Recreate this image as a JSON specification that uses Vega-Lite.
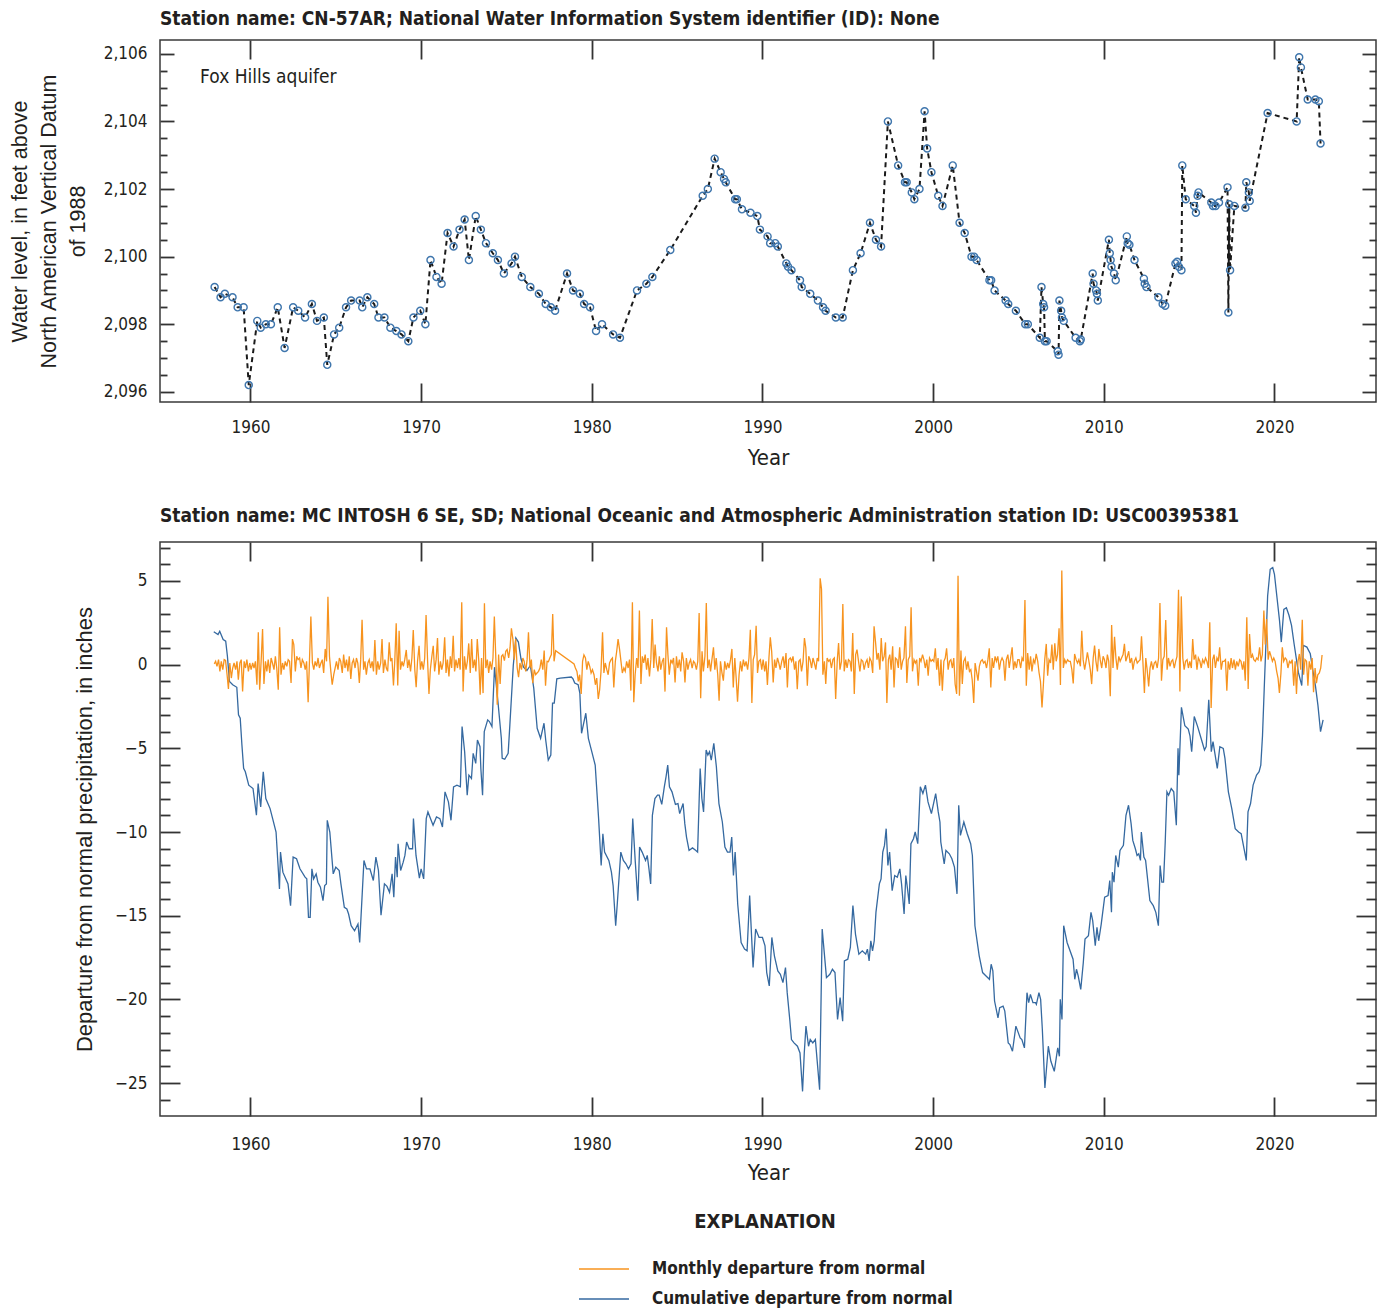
{
"$schema": "https://vega.github.io/schema/vega-lite/v6.json",
"background": "white",
"padding": {"left": 8, "top": 9, "right": 5, "bottom": 5},
"config": {
  "view": {"stroke": "#3a3a3a", "strokeWidth": 1.5},
  "axis": {"grid": false, "domain": false, "tickColor": "#333333", "tickWidth": 1.8, "labelFont": "DejaVu Sans Condensed, sans-serif", "labelFontSize": 17, "labelColor": "#231f20", "titleColor": "#231f20"},
  "concat": {"spacing": 37}
},
"datasets": {
  "wl": [
{"t":1957.9,"w":2099.1},{"t":1958.25,"w":2098.8},{"t":1958.5,"w":2098.9},{"t":1958.95,"w":2098.8},{"t":1959.25,"w":2098.5},{"t":1959.6,"w":2098.5},{"t":1959.9,"w":2096.2},{"t":1960.4,"w":2098.1},{"t":1960.6,"w":2097.9},{"t":1960.9,"w":2098.0},{"t":1961.2,"w":2098.0},{"t":1961.6,"w":2098.5},{"t":1962.0,"w":2097.3},{"t":1962.5,"w":2098.5},{"t":1962.8,"w":2098.4},{"t":1963.2,"w":2098.2},{"t":1963.6,"w":2098.6},{"t":1963.9,"w":2098.1},{"t":1964.3,"w":2098.2},{"t":1964.5,"w":2096.8},{"t":1964.9,"w":2097.7},{"t":1965.2,"w":2097.9},{"t":1965.6,"w":2098.5},{"t":1965.9,"w":2098.7},{"t":1966.4,"w":2098.7},{"t":1966.55,"w":2098.5},{"t":1966.85,"w":2098.8},{"t":1967.25,"w":2098.6},{"t":1967.5,"w":2098.2},{"t":1967.85,"w":2098.2},{"t":1968.2,"w":2097.9},{"t":1968.55,"w":2097.8},{"t":1968.85,"w":2097.7},{"t":1969.25,"w":2097.5},{"t":1969.55,"w":2098.2},{"t":1969.95,"w":2098.4},{"t":1970.25,"w":2098.0},{"t":1970.55,"w":2099.9},{"t":1970.9,"w":2099.4},{"t":1971.2,"w":2099.2},{"t":1971.55,"w":2100.7},{"t":1971.9,"w":2100.3},{"t":1972.25,"w":2100.8},{"t":1972.55,"w":2101.1},{"t":1972.8,"w":2099.9},{"t":1973.2,"w":2101.2},{"t":1973.5,"w":2100.8},{"t":1973.8,"w":2100.4},{"t":1974.2,"w":2100.1},{"t":1974.5,"w":2099.9},{"t":1974.85,"w":2099.5},{"t":1975.3,"w":2099.8},{"t":1975.5,"w":2100.0},{"t":1975.9,"w":2099.4},{"t":1976.4,"w":2099.1},{"t":1976.9,"w":2098.9},{"t":1977.3,"w":2098.6},{"t":1977.6,"w":2098.5},{"t":1977.85,"w":2098.4},{"t":1978.55,"w":2099.5},{"t":1978.9,"w":2099.0},{"t":1979.3,"w":2098.9},{"t":1979.55,"w":2098.6},{"t":1979.9,"w":2098.5},{"t":1980.25,"w":2097.8},{"t":1980.6,"w":2098.0},{"t":1981.25,"w":2097.7},{"t":1981.65,"w":2097.6},{"t":1982.65,"w":2099.0},{"t":1983.2,"w":2099.2},{"t":1983.55,"w":2099.4},{"t":1984.6,"w":2100.2},{"t":1986.5,"w":2101.8},{"t":1986.8,"w":2102.0},{"t":1987.2,"w":2102.9},{"t":1987.55,"w":2102.5},{"t":1987.75,"w":2102.3},{"t":1987.85,"w":2102.2},{"t":1988.4,"w":2101.7},{"t":1988.5,"w":2101.7},{"t":1988.8,"w":2101.4},{"t":1989.3,"w":2101.3},{"t":1989.7,"w":2101.2},{"t":1989.85,"w":2100.8},{"t":1990.3,"w":2100.6},{"t":1990.45,"w":2100.4},{"t":1990.75,"w":2100.4},{"t":1990.9,"w":2100.3},{"t":1991.4,"w":2099.8},{"t":1991.5,"w":2099.7},{"t":1991.7,"w":2099.6},{"t":1992.2,"w":2099.3},{"t":1992.3,"w":2099.1},{"t":1992.8,"w":2098.9},{"t":1993.25,"w":2098.7},{"t":1993.55,"w":2098.5},{"t":1993.7,"w":2098.4},{"t":1994.3,"w":2098.2},{"t":1994.7,"w":2098.2},{"t":1995.3,"w":2099.6},{"t":1995.75,"w":2100.1},{"t":1996.3,"w":2101.0},{"t":1996.65,"w":2100.5},{"t":1996.95,"w":2100.3},{"t":1997.35,"w":2104.0},{"t":1997.95,"w":2102.7},{"t":1998.35,"w":2102.2},{"t":1998.45,"w":2102.2},{"t":1998.75,"w":2101.9},{"t":1998.9,"w":2101.7},{"t":1999.2,"w":2102.0},{"t":1999.5,"w":2104.3},{"t":1999.65,"w":2103.2},{"t":1999.9,"w":2102.5},{"t":2000.3,"w":2101.8},{"t":2000.55,"w":2101.5},{"t":2001.15,"w":2102.7},{"t":2001.55,"w":2101.0},{"t":2001.85,"w":2100.7},{"t":2002.25,"w":2100.0},{"t":2002.4,"w":2100.0},{"t":2002.55,"w":2099.9},{"t":2003.3,"w":2099.3},{"t":2003.4,"w":2099.3},{"t":2003.6,"w":2099.0},{"t":2004.25,"w":2098.7},{"t":2004.4,"w":2098.6},{"t":2004.85,"w":2098.4},{"t":2005.4,"w":2098.0},{"t":2005.55,"w":2098.0},{"t":2006.25,"w":2097.6},{"t":2006.35,"w":2099.1},{"t":2006.45,"w":2098.6},{"t":2006.5,"w":2098.5},{"t":2006.55,"w":2097.5},{"t":2006.65,"w":2097.5},{"t":2007.3,"w":2097.2},{"t":2007.35,"w":2097.1},{"t":2007.4,"w":2098.7},{"t":2007.5,"w":2098.4},{"t":2007.55,"w":2098.2},{"t":2007.65,"w":2098.1},{"t":2008.35,"w":2097.6},{"t":2008.6,"w":2097.5},{"t":2008.65,"w":2097.55},{"t":2009.35,"w":2099.5},{"t":2009.4,"w":2099.2},{"t":2009.55,"w":2099.0},{"t":2009.6,"w":2098.9},{"t":2009.65,"w":2098.7},{"t":2010.3,"w":2100.5},{"t":2010.35,"w":2100.1},{"t":2010.4,"w":2099.9},{"t":2010.45,"w":2099.7},{"t":2010.6,"w":2099.5},{"t":2010.7,"w":2099.3},{"t":2011.35,"w":2100.6},{"t":2011.4,"w":2100.4},{"t":2011.5,"w":2100.35},{"t":2011.8,"w":2099.9},{"t":2012.35,"w":2099.35},{"t":2012.4,"w":2099.2},{"t":2012.5,"w":2099.1},{"t":2013.2,"w":2098.8},{"t":2013.45,"w":2098.6},{"t":2013.6,"w":2098.55},{"t":2014.2,"w":2099.8},{"t":2014.3,"w":2099.85},{"t":2014.4,"w":2099.7},{"t":2014.55,"w":2099.6},{"t":2014.6,"w":2102.7},{"t":2014.8,"w":2101.7},{"t":2015.3,"w":2101.5},{"t":2015.4,"w":2101.3},{"t":2015.5,"w":2101.8},{"t":2015.55,"w":2101.9},{"t":2016.3,"w":2101.6},{"t":2016.4,"w":2101.5},{"t":2016.55,"w":2101.5},{"t":2016.75,"w":2101.6},{"t":2017.25,"w":2102.05},{"t":2017.3,"w":2098.35},{"t":2017.35,"w":2101.55},{"t":2017.4,"w":2099.6},{"t":2017.65,"w":2101.5},{"t":2018.3,"w":2101.45},{"t":2018.35,"w":2102.2},{"t":2018.5,"w":2101.9},{"t":2018.55,"w":2101.65},{"t":2019.6,"w":2104.25},{"t":2021.3,"w":2104.0},{"t":2021.45,"w":2105.9},{"t":2021.55,"w":2105.6},{"t":2021.95,"w":2104.65},{"t":2022.4,"w":2104.65},{"t":2022.6,"w":2104.6},{"t":2022.7,"w":2103.35}
  ],
  "cum": [
{"t":1957.85,"v":1.97},{"t":1958.1,"v":1.8},{"t":1958.2,"v":2.0},{"t":1958.4,"v":1.5},{"t":1958.55,"v":1.4},{"t":1958.65,"v":0.5},{"t":1958.77,"v":-1.0},{"t":1958.96,"v":-1.2},{"t":1959.2,"v":-1.35},{"t":1959.3,"v":-3.0},{"t":1959.4,"v":-3.2},{"t":1959.5,"v":-4.8},{"t":1959.6,"v":-6.2},{"t":1959.7,"v":-6.4},{"t":1959.9,"v":-7.2},{"t":1960.15,"v":-7.4},{"t":1960.35,"v":-9.0},{"t":1960.45,"v":-7.1},{"t":1960.6,"v":-8.5},{"t":1960.75,"v":-6.4},{"t":1960.9,"v":-8.0},{"t":1961.15,"v":-8.6},{"t":1961.3,"v":-9.2},{"t":1961.5,"v":-10.0},{"t":1961.7,"v":-13.4},{"t":1961.76,"v":-11.2},{"t":1961.9,"v":-12.4},{"t":1962.2,"v":-13.1},{"t":1962.35,"v":-14.4},{"t":1962.5,"v":-11.5},{"t":1962.7,"v":-11.6},{"t":1962.9,"v":-12.2},{"t":1963.2,"v":-12.7},{"t":1963.3,"v":-12.8},{"t":1963.4,"v":-15.1},{"t":1963.5,"v":-15.1},{"t":1963.6,"v":-12.2},{"t":1963.7,"v":-12.8},{"t":1963.85,"v":-12.5},{"t":1963.95,"v":-13.0},{"t":1964.1,"v":-13.3},{"t":1964.25,"v":-14.1},{"t":1964.35,"v":-13.2},{"t":1964.45,"v":-13.1},{"t":1964.5,"v":-9.3},{"t":1964.65,"v":-10.0},{"t":1964.85,"v":-12.5},{"t":1965.0,"v":-12.1},{"t":1965.2,"v":-12.3},{"t":1965.3,"v":-13.1},{"t":1965.5,"v":-14.5},{"t":1965.65,"v":-14.6},{"t":1965.75,"v":-14.9},{"t":1965.9,"v":-15.6},{"t":1966.1,"v":-15.9},{"t":1966.3,"v":-15.5},{"t":1966.4,"v":-16.6},{"t":1966.65,"v":-11.7},{"t":1966.8,"v":-12.2},{"t":1967.0,"v":-12.2},{"t":1967.2,"v":-12.9},{"t":1967.35,"v":-11.5},{"t":1967.5,"v":-12.3},{"t":1967.65,"v":-14.97},{"t":1967.85,"v":-13.1},{"t":1968.0,"v":-13.25},{"t":1968.15,"v":-13.6},{"t":1968.3,"v":-12.5},{"t":1968.4,"v":-13.9},{"t":1968.5,"v":-11.5},{"t":1968.6,"v":-12.7},{"t":1968.65,"v":-10.7},{"t":1968.8,"v":-12.3},{"t":1968.95,"v":-11.8},{"t":1969.05,"v":-11.4},{"t":1969.15,"v":-10.6},{"t":1969.3,"v":-11.0},{"t":1969.5,"v":-11.0},{"t":1969.55,"v":-9.2},{"t":1969.7,"v":-11.4},{"t":1969.9,"v":-12.75},{"t":1970.0,"v":-12.2},{"t":1970.15,"v":-12.8},{"t":1970.3,"v":-9.2},{"t":1970.4,"v":-8.8},{"t":1970.7,"v":-9.6},{"t":1970.9,"v":-9.1},{"t":1971.1,"v":-9.2},{"t":1971.25,"v":-9.7},{"t":1971.4,"v":-7.6},{"t":1971.6,"v":-8.2},{"t":1971.75,"v":-9.3},{"t":1971.9,"v":-7.3},{"t":1972.1,"v":-7.2},{"t":1972.3,"v":-7.3},{"t":1972.4,"v":-3.7},{"t":1972.55,"v":-5.2},{"t":1972.7,"v":-7.8},{"t":1972.8,"v":-6.6},{"t":1972.95,"v":-6.8},{"t":1973.05,"v":-5.3},{"t":1973.2,"v":-5.9},{"t":1973.3,"v":-4.5},{"t":1973.45,"v":-4.9},{"t":1973.5,"v":-6.2},{"t":1973.6,"v":-7.8},{"t":1973.7,"v":-4.0},{"t":1973.9,"v":-3.3},{"t":1974.0,"v":-3.4},{"t":1974.15,"v":-3.7},{"t":1974.3,"v":-0.15},{"t":1974.5,"v":-2.2},{"t":1974.7,"v":-4.4},{"t":1974.75,"v":-5.6},{"t":1974.9,"v":-5.65},{"t":1975.1,"v":-5.3},{"t":1975.2,"v":-3.6},{"t":1975.4,"v":-0.05},{"t":1975.55,"v":1.6},{"t":1975.7,"v":1.35},{"t":1975.85,"v":0.35},{"t":1976.0,"v":-0.15},{"t":1976.2,"v":-0.35},{"t":1976.4,"v":-0.05},{"t":1976.6,"v":-1.4},{"t":1976.8,"v":-3.8},{"t":1977.0,"v":-4.4},{"t":1977.2,"v":-3.5},{"t":1977.3,"v":-4.5},{"t":1977.45,"v":-5.7},{"t":1977.6,"v":-5.4},{"t":1977.7,"v":-2.3},{"t":1977.8,"v":-2.3},{"t":1977.95,"v":-0.85},{"t":1978.15,"v":-0.8},{"t":1978.8,"v":-0.74},{"t":1978.9,"v":-0.85},{"t":1979.0,"v":-1.1},{"t":1979.2,"v":-1.2},{"t":1979.3,"v":-1.7},{"t":1979.4,"v":-4.1},{"t":1979.65,"v":-2.9},{"t":1979.8,"v":-4.4},{"t":1980.0,"v":-5.2},{"t":1980.2,"v":-6.0},{"t":1980.4,"v":-9.2},{"t":1980.55,"v":-12.0},{"t":1980.65,"v":-10.1},{"t":1980.75,"v":-11.2},{"t":1981.0,"v":-11.7},{"t":1981.15,"v":-12.4},{"t":1981.25,"v":-13.2},{"t":1981.4,"v":-15.6},{"t":1981.5,"v":-14.2},{"t":1981.7,"v":-11.2},{"t":1981.85,"v":-11.7},{"t":1982.0,"v":-11.9},{"t":1982.15,"v":-12.2},{"t":1982.3,"v":-11.9},{"t":1982.4,"v":-9.2},{"t":1982.55,"v":-11.8},{"t":1982.7,"v":-14.1},{"t":1982.8,"v":-10.9},{"t":1982.95,"v":-11.2},{"t":1983.15,"v":-11.7},{"t":1983.25,"v":-11.4},{"t":1983.35,"v":-12.2},{"t":1983.45,"v":-13.1},{"t":1983.55,"v":-9.0},{"t":1983.7,"v":-8.0},{"t":1983.85,"v":-7.8},{"t":1983.95,"v":-7.8},{"t":1984.1,"v":-8.35},{"t":1984.25,"v":-7.3},{"t":1984.35,"v":-6.7},{"t":1984.45,"v":-6.0},{"t":1984.55,"v":-7.3},{"t":1984.7,"v":-7.6},{"t":1984.9,"v":-8.35},{"t":1985.05,"v":-8.3},{"t":1985.15,"v":-8.9},{"t":1985.35,"v":-8.3},{"t":1985.45,"v":-9.5},{"t":1985.55,"v":-10.3},{"t":1985.7,"v":-11.1},{"t":1985.9,"v":-10.95},{"t":1986.1,"v":-11.1},{"t":1986.2,"v":-11.2},{"t":1986.3,"v":-7.8},{"t":1986.35,"v":-6.2},{"t":1986.45,"v":-8.0},{"t":1986.55,"v":-8.8},{"t":1986.7,"v":-5.1},{"t":1986.8,"v":-5.4},{"t":1986.9,"v":-5.2},{"t":1987.0,"v":-5.7},{"t":1987.15,"v":-4.7},{"t":1987.3,"v":-6.1},{"t":1987.45,"v":-8.3},{"t":1987.65,"v":-9.4},{"t":1987.8,"v":-10.9},{"t":1987.95,"v":-11.2},{"t":1988.1,"v":-11.2},{"t":1988.2,"v":-10.3},{"t":1988.3,"v":-12.6},{"t":1988.4,"v":-11.2},{"t":1988.55,"v":-14.3},{"t":1988.75,"v":-16.6},{"t":1988.95,"v":-17.0},{"t":1989.1,"v":-17.1},{"t":1989.25,"v":-13.8},{"t":1989.45,"v":-18.1},{"t":1989.6,"v":-15.8},{"t":1989.8,"v":-16.3},{"t":1990.0,"v":-16.3},{"t":1990.15,"v":-16.8},{"t":1990.25,"v":-18.4},{"t":1990.4,"v":-19.2},{"t":1990.55,"v":-16.3},{"t":1990.7,"v":-17.4},{"t":1990.9,"v":-18.3},{"t":1991.05,"v":-18.5},{"t":1991.2,"v":-19.0},{"t":1991.35,"v":-18.1},{"t":1991.45,"v":-19.6},{"t":1991.6,"v":-21.2},{"t":1991.7,"v":-22.4},{"t":1991.85,"v":-22.6},{"t":1992.05,"v":-22.8},{"t":1992.2,"v":-23.2},{"t":1992.35,"v":-25.5},{"t":1992.45,"v":-23.2},{"t":1992.55,"v":-21.6},{"t":1992.7,"v":-22.8},{"t":1992.8,"v":-22.4},{"t":1992.95,"v":-22.6},{"t":1993.1,"v":-22.4},{"t":1993.2,"v":-23.6},{"t":1993.35,"v":-25.4},{"t":1993.5,"v":-15.8},{"t":1993.75,"v":-18.7},{"t":1993.95,"v":-18.5},{"t":1994.1,"v":-18.2},{"t":1994.25,"v":-18.4},{"t":1994.4,"v":-21.2},{"t":1994.55,"v":-19.9},{"t":1994.7,"v":-21.3},{"t":1994.8,"v":-17.7},{"t":1995.0,"v":-17.6},{"t":1995.15,"v":-16.9},{"t":1995.3,"v":-14.4},{"t":1995.45,"v":-16.1},{"t":1995.65,"v":-17.3},{"t":1995.85,"v":-17.1},{"t":1996.05,"v":-17.3},{"t":1996.15,"v":-17.0},{"t":1996.25,"v":-17.7},{"t":1996.35,"v":-16.5},{"t":1996.45,"v":-17.1},{"t":1996.55,"v":-16.5},{"t":1996.65,"v":-14.8},{"t":1996.85,"v":-13.1},{"t":1996.95,"v":-12.8},{"t":1997.05,"v":-11.2},{"t":1997.15,"v":-10.8},{"t":1997.25,"v":-9.8},{"t":1997.35,"v":-12.0},{"t":1997.45,"v":-11.2},{"t":1997.6,"v":-13.5},{"t":1997.75,"v":-12.6},{"t":1997.9,"v":-12.7},{"t":1998.05,"v":-12.2},{"t":1998.15,"v":-13.1},{"t":1998.3,"v":-14.9},{"t":1998.4,"v":-12.6},{"t":1998.5,"v":-13.4},{"t":1998.6,"v":-14.3},{"t":1998.7,"v":-10.7},{"t":1998.85,"v":-10.4},{"t":1998.95,"v":-10.0},{"t":1999.1,"v":-10.7},{"t":1999.25,"v":-7.3},{"t":1999.4,"v":-7.7},{"t":1999.55,"v":-7.2},{"t":1999.7,"v":-8.2},{"t":1999.9,"v":-8.9},{"t":2000.15,"v":-7.7},{"t":2000.3,"v":-8.8},{"t":2000.4,"v":-9.4},{"t":2000.45,"v":-10.6},{"t":2000.65,"v":-11.9},{"t":2000.75,"v":-11.1},{"t":2000.95,"v":-11.3},{"t":2001.1,"v":-11.6},{"t":2001.25,"v":-12.1},{"t":2001.4,"v":-13.7},{"t":2001.5,"v":-8.4},{"t":2001.6,"v":-10.2},{"t":2001.8,"v":-9.4},{"t":2002.0,"v":-10.1},{"t":2002.2,"v":-10.7},{"t":2002.3,"v":-11.4},{"t":2002.45,"v":-15.6},{"t":2002.7,"v":-17.4},{"t":2002.9,"v":-18.4},{"t":2003.1,"v":-18.6},{"t":2003.3,"v":-18.8},{"t":2003.4,"v":-17.9},{"t":2003.5,"v":-18.3},{"t":2003.6,"v":-20.1},{"t":2003.8,"v":-21.1},{"t":2003.9,"v":-20.5},{"t":2004.1,"v":-20.4},{"t":2004.2,"v":-20.7},{"t":2004.4,"v":-22.6},{"t":2004.5,"v":-22.7},{"t":2004.65,"v":-23.1},{"t":2004.85,"v":-21.6},{"t":2005.1,"v":-22.3},{"t":2005.2,"v":-22.4},{"t":2005.35,"v":-22.9},{"t":2005.5,"v":-19.6},{"t":2005.6,"v":-20.2},{"t":2005.7,"v":-19.7},{"t":2005.85,"v":-20.2},{"t":2006.0,"v":-20.2},{"t":2006.05,"v":-20.3},{"t":2006.2,"v":-19.6},{"t":2006.3,"v":-20.0},{"t":2006.4,"v":-21.8},{"t":2006.55,"v":-25.3},{"t":2006.75,"v":-22.8},{"t":2006.9,"v":-23.7},{"t":2007.1,"v":-24.3},{"t":2007.3,"v":-22.9},{"t":2007.4,"v":-23.4},{"t":2007.45,"v":-20.0},{"t":2007.55,"v":-21.2},{"t":2007.65,"v":-15.6},{"t":2007.85,"v":-16.6},{"t":2008.2,"v":-17.6},{"t":2008.3,"v":-18.8},{"t":2008.4,"v":-18.2},{"t":2008.5,"v":-18.6},{"t":2008.65,"v":-19.4},{"t":2008.8,"v":-17.8},{"t":2008.9,"v":-16.4},{"t":2009.1,"v":-16.2},{"t":2009.25,"v":-14.8},{"t":2009.35,"v":-15.3},{"t":2009.5,"v":-16.8},{"t":2009.6,"v":-15.7},{"t":2009.7,"v":-16.5},{"t":2009.85,"v":-15.5},{"t":2010.05,"v":-13.9},{"t":2010.25,"v":-13.8},{"t":2010.35,"v":-12.9},{"t":2010.45,"v":-14.8},{"t":2010.5,"v":-12.4},{"t":2010.6,"v":-13.0},{"t":2010.7,"v":-11.4},{"t":2010.85,"v":-12.1},{"t":2010.95,"v":-11.1},{"t":2011.15,"v":-10.8},{"t":2011.3,"v":-9.0},{"t":2011.45,"v":-8.4},{"t":2011.6,"v":-9.5},{"t":2011.7,"v":-10.5},{"t":2011.85,"v":-11.0},{"t":2011.95,"v":-11.4},{"t":2012.05,"v":-11.3},{"t":2012.15,"v":-11.7},{"t":2012.2,"v":-10.0},{"t":2012.35,"v":-11.5},{"t":2012.45,"v":-11.7},{"t":2012.7,"v":-14.1},{"t":2012.9,"v":-14.4},{"t":2013.05,"v":-14.8},{"t":2013.2,"v":-15.6},{"t":2013.3,"v":-12.0},{"t":2013.4,"v":-13.0},{"t":2013.5,"v":-13.0},{"t":2013.6,"v":-10.6},{"t":2013.7,"v":-7.6},{"t":2013.8,"v":-7.8},{"t":2013.95,"v":-7.4},{"t":2014.1,"v":-7.6},{"t":2014.25,"v":-9.6},{"t":2014.35,"v":-5.0},{"t":2014.4,"v":-6.6},{"t":2014.55,"v":-2.55},{"t":2014.75,"v":-3.65},{"t":2014.95,"v":-3.85},{"t":2015.05,"v":-4.25},{"t":2015.15,"v":-5.2},{"t":2015.3,"v":-3.1},{"t":2015.5,"v":-3.7},{"t":2015.7,"v":-4.4},{"t":2015.9,"v":-5.1},{"t":2016.0,"v":-4.9},{"t":2016.15,"v":-2.1},{"t":2016.3,"v":-5.2},{"t":2016.4,"v":-4.6},{"t":2016.65,"v":-6.2},{"t":2016.8,"v":-4.9},{"t":2017.0,"v":-5.0},{"t":2017.1,"v":-5.6},{"t":2017.3,"v":-7.6},{"t":2017.5,"v":-8.6},{"t":2017.7,"v":-9.8},{"t":2017.9,"v":-10.0},{"t":2018.05,"v":-10.1},{"t":2018.2,"v":-10.9},{"t":2018.35,"v":-11.7},{"t":2018.45,"v":-8.8},{"t":2018.6,"v":-8.3},{"t":2018.75,"v":-7.2},{"t":2018.95,"v":-6.6},{"t":2019.1,"v":-6.4},{"t":2019.2,"v":-6.0},{"t":2019.3,"v":-4.25},{"t":2019.4,"v":-1.45},{"t":2019.5,"v":1.25},{"t":2019.6,"v":4.1},{"t":2019.75,"v":5.7},{"t":2019.9,"v":5.8},{"t":2020.0,"v":5.4},{"t":2020.15,"v":4.0},{"t":2020.3,"v":2.6},{"t":2020.4,"v":1.35},{"t":2020.55,"v":3.3},{"t":2020.7,"v":3.4},{"t":2020.85,"v":2.95},{"t":2021.0,"v":2.35},{"t":2021.15,"v":1.25},{"t":2021.4,"v":-0.45},{"t":2021.6,"v":-1.25},{"t":2021.7,"v":1.15},{"t":2021.9,"v":1.05},{"t":2022.1,"v":0.65},{"t":2022.25,"v":-0.35},{"t":2022.4,"v":-1.25},{"t":2022.55,"v":-2.45},{"t":2022.7,"v":-4.0},{"t":2022.85,"v":-3.3}
  ],
  "mon": [
{"t":1957.88,"v":0.05},{"t":1957.96,"v":0.2},
{"t":1958.04,"v":-0.1},{"t":1958.13,"v":0.3},{"t":1958.21,"v":-0.4},{"t":1958.29,"v":0.2},{"t":1958.38,"v":-0.3},{"t":1958.46,"v":0.3},{"t":1958.54,"v":0.25},{"t":1958.63,"v":-0.6},{"t":1958.71,"v":-1.45},{"t":1958.79,"v":0.1},{"t":1958.88,"v":-0.8},{"t":1958.96,"v":-0.2},
{"t":1959.04,"v":0.1},{"t":1959.13,"v":-0.3},{"t":1959.21,"v":0.2},{"t":1959.29,"v":-0.9},{"t":1959.38,"v":0.1},{"t":1959.46,"v":0.3},{"t":1959.54,"v":-1.6},{"t":1959.63,"v":0.2},{"t":1959.71,"v":-0.2},{"t":1959.79,"v":0.3},{"t":1959.88,"v":-0.4},{"t":1959.96,"v":0.1},
{"t":1960.04,"v":-0.3},{"t":1960.13,"v":0.1},{"t":1960.21,"v":-0.2},{"t":1960.29,"v":0.2},{"t":1960.38,"v":-1.2},{"t":1960.46,"v":1.93},{"t":1960.54,"v":-1.5},{"t":1960.63,"v":0.3},{"t":1960.71,"v":2.13},{"t":1960.79,"v":-1.15},{"t":1960.88,"v":0.2},{"t":1960.96,"v":-0.4},
{"t":1961.04,"v":0.3},{"t":1961.13,"v":-0.5},{"t":1961.21,"v":0.4},{"t":1961.29,"v":0.1},{"t":1961.38,"v":-0.3},{"t":1961.46,"v":0.5},{"t":1961.54,"v":-0.2},{"t":1961.63,"v":-1.5},{"t":1961.71,"v":2.23},{"t":1961.79,"v":-0.6},{"t":1961.88,"v":0.1},{"t":1961.96,"v":-0.3},
{"t":1962.04,"v":0.2},{"t":1962.13,"v":-0.1},{"t":1962.21,"v":0.3},{"t":1962.29,"v":0.2},{"t":1962.38,"v":-1.1},{"t":1962.46,"v":1.53},{"t":1962.54,"v":1.2},{"t":1962.63,"v":-0.4},{"t":1962.71,"v":0.5},{"t":1962.79,"v":0.3},{"t":1962.88,"v":0.4},{"t":1962.96,"v":-0.2},
{"t":1963.04,"v":0.3},{"t":1963.13,"v":0.1},{"t":1963.21,"v":-0.3},{"t":1963.29,"v":0.2},{"t":1963.38,"v":-2.25},{"t":1963.46,"v":0.3},{"t":1963.54,"v":2.87},{"t":1963.63,"v":0.1},{"t":1963.71,"v":-0.3},{"t":1963.79,"v":0.2},{"t":1963.88,"v":-0.1},{"t":1963.96,"v":0.4},
{"t":1964.04,"v":-0.2},{"t":1964.13,"v":0.1},{"t":1964.21,"v":0.3},{"t":1964.29,"v":-0.5},{"t":1964.38,"v":0.94},{"t":1964.46,"v":0.2},{"t":1964.54,"v":4.06},{"t":1964.63,"v":0.5},{"t":1964.71,"v":-0.4},{"t":1964.79,"v":-1.2},{"t":1964.88,"v":-0.6},{"t":1964.96,"v":-0.2},
{"t":1965.04,"v":0.2},{"t":1965.13,"v":-0.3},{"t":1965.21,"v":0.4},{"t":1965.29,"v":0.2},{"t":1965.38,"v":-0.5},{"t":1965.46,"v":0.6},{"t":1965.54,"v":-0.2},{"t":1965.63,"v":0.3},{"t":1965.71,"v":-0.4},{"t":1965.79,"v":0.5},{"t":1965.88,"v":-0.85},{"t":1965.96,"v":0.1},
{"t":1966.04,"v":0.3},{"t":1966.13,"v":-0.2},{"t":1966.21,"v":0.4},{"t":1966.29,"v":0.1},{"t":1966.38,"v":-1.1},{"t":1966.46,"v":0.3},{"t":1966.54,"v":2.69},{"t":1966.63,"v":-0.3},{"t":1966.71,"v":0.2},{"t":1966.79,"v":-0.6},{"t":1966.88,"v":0.1},{"t":1966.96,"v":0.3},
{"t":1967.04,"v":-0.2},{"t":1967.13,"v":0.2},{"t":1967.21,"v":-0.4},{"t":1967.29,"v":1.47},{"t":1967.38,"v":-0.6},{"t":1967.46,"v":0.2},{"t":1967.54,"v":-0.3},{"t":1967.63,"v":0.1},{"t":1967.71,"v":1.53},{"t":1967.79,"v":-0.5},{"t":1967.88,"v":0.3},{"t":1967.96,"v":-0.2},
{"t":1968.04,"v":-0.4},{"t":1968.13,"v":1.33},{"t":1968.21,"v":0.2},{"t":1968.29,"v":0.4},{"t":1968.38,"v":-1.25},{"t":1968.46,"v":0.3},{"t":1968.54,"v":2.47},{"t":1968.63,"v":-1.25},{"t":1968.71,"v":2.03},{"t":1968.79,"v":-0.3},{"t":1968.88,"v":0.2},{"t":1968.96,"v":-0.1},
{"t":1969.04,"v":0.3},{"t":1969.13,"v":0.88},{"t":1969.21,"v":-0.2},{"t":1969.29,"v":0.3},{"t":1969.38,"v":-0.4},{"t":1969.46,"v":0.4},{"t":1969.54,"v":2.07},{"t":1969.63,"v":-0.3},{"t":1969.71,"v":-1.35},{"t":1969.79,"v":0.2},{"t":1969.88,"v":1.13},{"t":1969.96,"v":-0.3},
{"t":1970.04,"v":0.2},{"t":1970.13,"v":-0.3},{"t":1970.21,"v":0.4},{"t":1970.29,"v":2.97},{"t":1970.38,"v":0.2},{"t":1970.46,"v":-1.75},{"t":1970.54,"v":-0.3},{"t":1970.63,"v":0.5},{"t":1970.71,"v":1.13},{"t":1970.79,"v":-0.4},{"t":1970.88,"v":0.3},{"t":1970.96,"v":1.59},
{"t":1971.04,"v":-0.6},{"t":1971.13,"v":0.2},{"t":1971.21,"v":-0.3},{"t":1971.29,"v":0.1},{"t":1971.38,"v":1.63},{"t":1971.46,"v":-0.5},{"t":1971.54,"v":0.3},{"t":1971.63,"v":-0.7},{"t":1971.71,"v":0.5},{"t":1971.79,"v":-0.2},{"t":1971.88,"v":1.73},{"t":1971.96,"v":-0.4},
{"t":1972.04,"v":0.3},{"t":1972.13,"v":-0.2},{"t":1972.21,"v":0.4},{"t":1972.29,"v":-0.3},{"t":1972.38,"v":3.73},{"t":1972.46,"v":-1.6},{"t":1972.54,"v":0.5},{"t":1972.63,"v":-0.3},{"t":1972.71,"v":0.2},{"t":1972.79,"v":1.27},{"t":1972.88,"v":-0.5},{"t":1972.96,"v":1.53},
{"t":1973.04,"v":-0.2},{"t":1973.13,"v":0.3},{"t":1973.21,"v":-0.4},{"t":1973.29,"v":1.53},{"t":1973.38,"v":0.2},{"t":1973.46,"v":-1.8},{"t":1973.54,"v":0.4},{"t":1973.63,"v":-1.7},{"t":1973.71,"v":3.67},{"t":1973.79,"v":-0.2},{"t":1973.88,"v":0.3},{"t":1973.96,"v":-0.5},
{"t":1974.04,"v":0.2},{"t":1974.13,"v":-0.3},{"t":1974.21,"v":0.4},{"t":1974.29,"v":2.87},{"t":1974.38,"v":0.3},{"t":1974.46,"v":-2.4},{"t":1974.54,"v":0.6},{"t":1974.63,"v":-1.15},{"t":1974.71,"v":0.5},{"t":1974.79,"v":0.6},{"t":1974.88,"v":0.24},{"t":1974.96,"v":0.8},
{"t":1975.04,"v":0.9},{"t":1975.13,"v":0.4},{"t":1975.21,"v":1.0},{"t":1975.29,"v":2.17},{"t":1975.38,"v":1.5},{"t":1975.46,"v":0.3},{"t":1975.54,"v":1.53},{"t":1975.63,"v":-0.2},{"t":1975.71,"v":-0.75},{"t":1975.79,"v":0.1},{"t":1975.88,"v":-0.3},{"t":1975.96,"v":0.4},
{"t":1976.04,"v":0.2},{"t":1976.13,"v":-0.4},{"t":1976.21,"v":0.3},{"t":1976.29,"v":1.93},{"t":1976.38,"v":-0.2},{"t":1976.46,"v":0.3},{"t":1976.54,"v":-1.1},{"t":1976.63,"v":-0.3},{"t":1976.71,"v":-0.6},{"t":1976.79,"v":-0.5},{"t":1976.88,"v":-0.4},{"t":1976.96,"v":-0.2},
{"t":1977.04,"v":0.3},{"t":1977.13,"v":-0.3},{"t":1977.21,"v":0.84},{"t":1977.29,"v":-1.26},{"t":1977.38,"v":0.2},{"t":1977.46,"v":0.18},{"t":1977.54,"v":0.4},{"t":1977.63,"v":0.6},{"t":1977.71,"v":3.03},{"t":1977.79,"v":0.2},{"t":1977.88,"v":0.84},
{"t":1978.96,"v":0.04},
{"t":1979.04,"v":-0.2},{"t":1979.13,"v":-0.4},{"t":1979.21,"v":-1.0},{"t":1979.29,"v":-0.6},{"t":1979.38,"v":-1.75},{"t":1979.46,"v":0.2},{"t":1979.54,"v":0.58},{"t":1979.63,"v":0.4},{"t":1979.71,"v":-0.3},{"t":1979.79,"v":0.2},{"t":1979.88,"v":-0.1},{"t":1979.96,"v":-0.5},
{"t":1980.04,"v":-0.3},{"t":1980.13,"v":-0.6},{"t":1980.21,"v":-1.2},{"t":1980.29,"v":-0.8},{"t":1980.38,"v":-2.05},{"t":1980.46,"v":-1.5},{"t":1980.54,"v":-0.4},{"t":1980.63,"v":1.93},{"t":1980.71,"v":-0.5},{"t":1980.79,"v":0.1},{"t":1980.88,"v":-0.3},{"t":1980.96,"v":-0.6},
{"t":1981.04,"v":0.1},{"t":1981.13,"v":0.3},{"t":1981.21,"v":0.4},{"t":1981.29,"v":-1.36},{"t":1981.38,"v":0.2},{"t":1981.46,"v":0.8},{"t":1981.54,"v":1.53},{"t":1981.63,"v":0.9},{"t":1981.71,"v":0.2},{"t":1981.79,"v":-0.5},{"t":1981.88,"v":-0.2},{"t":1981.96,"v":-0.4},
{"t":1982.04,"v":0.2},{"t":1982.13,"v":-0.2},{"t":1982.21,"v":0.3},{"t":1982.29,"v":-1.55},{"t":1982.38,"v":3.73},{"t":1982.46,"v":-2.25},{"t":1982.54,"v":-0.6},{"t":1982.63,"v":0.4},{"t":1982.71,"v":-0.2},{"t":1982.79,"v":3.23},{"t":1982.88,"v":-1.16},{"t":1982.96,"v":0.5},
{"t":1983.04,"v":0.1},{"t":1983.13,"v":0.6},{"t":1983.21,"v":-0.3},{"t":1983.29,"v":0.4},{"t":1983.38,"v":-0.7},{"t":1983.46,"v":0.3},{"t":1983.54,"v":2.73},{"t":1983.63,"v":-0.2},{"t":1983.71,"v":1.2},{"t":1983.79,"v":0.1},{"t":1983.88,"v":-0.4},{"t":1983.96,"v":0.5},
{"t":1984.04,"v":-0.3},{"t":1984.13,"v":0.2},{"t":1984.21,"v":0.4},{"t":1984.29,"v":-1.61},{"t":1984.38,"v":2.23},{"t":1984.46,"v":0.6},{"t":1984.54,"v":-0.6},{"t":1984.63,"v":0.3},{"t":1984.71,"v":0.1},{"t":1984.79,"v":0.4},{"t":1984.88,"v":-1.06},{"t":1984.96,"v":0.5},
{"t":1985.04,"v":-0.2},{"t":1985.13,"v":0.3},{"t":1985.21,"v":-0.4},{"t":1985.29,"v":0.74},{"t":1985.38,"v":0.2},{"t":1985.46,"v":-1.06},{"t":1985.54,"v":0.4},{"t":1985.63,"v":-0.3},{"t":1985.71,"v":0.1},{"t":1985.79,"v":0.3},{"t":1985.88,"v":-0.2},{"t":1985.96,"v":0.2},
{"t":1986.04,"v":0.1},{"t":1986.13,"v":-0.3},{"t":1986.21,"v":0.2},{"t":1986.29,"v":3.09},{"t":1986.38,"v":-2.01},{"t":1986.46,"v":0.8},{"t":1986.54,"v":-0.4},{"t":1986.63,"v":0.5},{"t":1986.71,"v":3.69},{"t":1986.79,"v":-0.2},{"t":1986.88,"v":0.3},{"t":1986.96,"v":-0.4},
{"t":1987.04,"v":0.3},{"t":1987.13,"v":1.04},{"t":1987.21,"v":-0.3},{"t":1987.29,"v":0.4},{"t":1987.38,"v":-0.6},{"t":1987.46,"v":-2.15},{"t":1987.54,"v":0.2},{"t":1987.63,"v":-0.5},{"t":1987.71,"v":-0.96},{"t":1987.79,"v":0.2},{"t":1987.88,"v":-0.3},{"t":1987.96,"v":0.1},
{"t":1988.04,"v":-0.2},{"t":1988.13,"v":0.3},{"t":1988.21,"v":0.94},{"t":1988.29,"v":-1.36},{"t":1988.38,"v":0.4},{"t":1988.46,"v":-0.8},{"t":1988.54,"v":-2.21},{"t":1988.63,"v":-0.6},{"t":1988.71,"v":0.2},{"t":1988.79,"v":-0.4},{"t":1988.88,"v":0.3},{"t":1988.96,"v":-0.1},
{"t":1989.04,"v":0.2},{"t":1989.13,"v":-0.3},{"t":1989.21,"v":0.4},{"t":1989.29,"v":2.09},{"t":1989.38,"v":-2.29},{"t":1989.46,"v":0.3},{"t":1989.54,"v":0.6},{"t":1989.63,"v":2.33},{"t":1989.71,"v":-0.5},{"t":1989.79,"v":0.2},{"t":1989.88,"v":0.3},{"t":1989.96,"v":-0.3},
{"t":1990.04,"v":0.3},{"t":1990.13,"v":-0.4},{"t":1990.21,"v":0.2},{"t":1990.29,"v":-1.22},{"t":1990.38,"v":0.4},{"t":1990.46,"v":1.63},{"t":1990.54,"v":0.8},{"t":1990.63,"v":-1.06},{"t":1990.71,"v":0.3},{"t":1990.79,"v":-0.2},{"t":1990.88,"v":0.4},{"t":1990.96,"v":0.1},
{"t":1991.04,"v":-0.3},{"t":1991.13,"v":0.2},{"t":1991.21,"v":0.5},{"t":1991.29,"v":-0.2},{"t":1991.38,"v":0.7},{"t":1991.46,"v":-1.36},{"t":1991.54,"v":0.3},{"t":1991.63,"v":0.4},{"t":1991.71,"v":0.2},{"t":1991.79,"v":0.5},{"t":1991.88,"v":-0.3},{"t":1991.96,"v":0.2},
{"t":1992.04,"v":-1.46},{"t":1992.13,"v":0.2},{"t":1992.21,"v":0.3},{"t":1992.29,"v":-0.4},{"t":1992.38,"v":0.2},{"t":1992.46,"v":1.59},{"t":1992.54,"v":1.0},{"t":1992.63,"v":-1.26},{"t":1992.71,"v":0.5},{"t":1992.79,"v":0.3},{"t":1992.88,"v":-0.2},{"t":1992.96,"v":0.4},
{"t":1993.04,"v":0.1},{"t":1993.13,"v":-0.3},{"t":1993.21,"v":0.4},{"t":1993.29,"v":0.2},{"t":1993.38,"v":5.16},{"t":1993.46,"v":4.52},{"t":1993.54,"v":-0.6},{"t":1993.63,"v":0.2},{"t":1993.71,"v":-1.16},{"t":1993.79,"v":0.4},{"t":1993.88,"v":0.2},{"t":1993.96,"v":0.3},
{"t":1994.04,"v":-0.2},{"t":1994.13,"v":0.3},{"t":1994.21,"v":0.4},{"t":1994.29,"v":-2.05},{"t":1994.38,"v":0.2},{"t":1994.46,"v":1.29},{"t":1994.54,"v":-0.3},{"t":1994.63,"v":0.2},{"t":1994.71,"v":3.63},{"t":1994.79,"v":-0.4},{"t":1994.88,"v":0.3},{"t":1994.96,"v":-0.2},
{"t":1995.04,"v":0.3},{"t":1995.13,"v":0.2},{"t":1995.21,"v":-0.4},{"t":1995.29,"v":1.89},{"t":1995.38,"v":-1.75},{"t":1995.46,"v":0.6},{"t":1995.54,"v":0.9},{"t":1995.63,"v":0.2},{"t":1995.71,"v":-0.4},{"t":1995.79,"v":0.3},{"t":1995.88,"v":0.2},{"t":1995.96,"v":-0.3},
{"t":1996.04,"v":0.1},{"t":1996.13,"v":0.3},{"t":1996.21,"v":-0.2},{"t":1996.29,"v":0.4},{"t":1996.38,"v":0.2},{"t":1996.46,"v":-0.5},{"t":1996.54,"v":2.29},{"t":1996.63,"v":1.3},{"t":1996.71,"v":0.3},{"t":1996.79,"v":0.7},{"t":1996.88,"v":-0.3},{"t":1996.96,"v":1.59},
{"t":1997.04,"v":0.2},{"t":1997.13,"v":0.5},{"t":1997.21,"v":1.33},{"t":1997.29,"v":-2.29},{"t":1997.38,"v":0.3},{"t":1997.46,"v":0.6},{"t":1997.54,"v":-0.3},{"t":1997.63,"v":1.1},{"t":1997.71,"v":-1.36},{"t":1997.79,"v":0.4},{"t":1997.88,"v":0.3},{"t":1997.96,"v":-0.2},
{"t":1998.04,"v":1.04},{"t":1998.13,"v":-0.3},{"t":1998.21,"v":0.2},{"t":1998.29,"v":0.4},{"t":1998.38,"v":2.29},{"t":1998.46,"v":-1.1},{"t":1998.54,"v":0.3},{"t":1998.63,"v":0.5},{"t":1998.71,"v":3.43},{"t":1998.79,"v":-0.4},{"t":1998.88,"v":0.3},{"t":1998.96,"v":0.1},
{"t":1999.04,"v":0.3},{"t":1999.13,"v":-1.26},{"t":1999.21,"v":0.4},{"t":1999.29,"v":0.2},{"t":1999.38,"v":0.6},{"t":1999.46,"v":0.3},{"t":1999.54,"v":-0.2},{"t":1999.63,"v":0.3},{"t":1999.71,"v":-0.66},{"t":1999.79,"v":0.4},{"t":1999.88,"v":0.2},{"t":1999.96,"v":0.3},
{"t":2000.04,"v":0.2},{"t":2000.13,"v":0.98},{"t":2000.21,"v":-0.3},{"t":2000.29,"v":0.4},{"t":2000.38,"v":-1.26},{"t":2000.46,"v":0.3},{"t":2000.54,"v":-1.55},{"t":2000.63,"v":0.2},{"t":2000.71,"v":0.4},{"t":2000.79,"v":0.98},{"t":2000.88,"v":-0.3},{"t":2000.96,"v":0.2},
{"t":2001.04,"v":0.3},{"t":2001.13,"v":-0.2},{"t":2001.21,"v":0.4},{"t":2001.29,"v":-1.16},{"t":2001.38,"v":-1.75},{"t":2001.46,"v":5.32},{"t":2001.54,"v":-1.85},{"t":2001.63,"v":0.84},{"t":2001.71,"v":-1.16},{"t":2001.79,"v":0.2},{"t":2001.88,"v":0.4},{"t":2001.96,"v":-0.3},
{"t":2002.04,"v":0.2},{"t":2002.13,"v":-0.4},{"t":2002.21,"v":-0.3},{"t":2002.29,"v":-0.9},{"t":2002.38,"v":-2.29},{"t":2002.46,"v":0.1},{"t":2002.54,"v":-0.4},{"t":2002.63,"v":-0.96},{"t":2002.71,"v":-0.1},{"t":2002.79,"v":0.2},{"t":2002.88,"v":0.3},{"t":2002.96,"v":0.1},
{"t":2003.04,"v":0.2},{"t":2003.13,"v":-0.2},{"t":2003.21,"v":0.3},{"t":2003.29,"v":0.98},{"t":2003.38,"v":-1.36},{"t":2003.46,"v":0.4},{"t":2003.54,"v":-0.2},{"t":2003.63,"v":0.5},{"t":2003.71,"v":0.2},{"t":2003.79,"v":0.5},{"t":2003.88,"v":-0.3},{"t":2003.96,"v":0.2},
{"t":2004.04,"v":0.4},{"t":2004.13,"v":0.2},{"t":2004.21,"v":-0.96},{"t":2004.29,"v":0.3},{"t":2004.38,"v":0.6},{"t":2004.46,"v":-0.2},{"t":2004.54,"v":0.4},{"t":2004.63,"v":1.04},{"t":2004.71,"v":-0.3},{"t":2004.79,"v":0.2},{"t":2004.88,"v":-0.2},{"t":2004.96,"v":0.3},
{"t":2005.04,"v":0.3},{"t":2005.13,"v":-0.2},{"t":2005.21,"v":0.4},{"t":2005.29,"v":0.2},{"t":2005.38,"v":3.86},{"t":2005.46,"v":-1.26},{"t":2005.54,"v":0.7},{"t":2005.63,"v":-0.3},{"t":2005.71,"v":0.5},{"t":2005.79,"v":-0.4},{"t":2005.88,"v":0.3},{"t":2005.96,"v":0.1},
{"t":2006.04,"v":0.64},{"t":2006.13,"v":0.2},{"t":2006.21,"v":-0.5},{"t":2006.29,"v":-1.0},{"t":2006.38,"v":-2.55},{"t":2006.46,"v":-1.2},{"t":2006.54,"v":0.3},{"t":2006.63,"v":1.24},{"t":2006.71,"v":-0.66},{"t":2006.79,"v":0.3},{"t":2006.88,"v":0.1},{"t":2006.96,"v":1.2},
{"t":2007.04,"v":-0.3},{"t":2007.13,"v":1.28},{"t":2007.21,"v":0.2},{"t":2007.29,"v":0.6},{"t":2007.38,"v":2.17},{"t":2007.46,"v":-1.22},{"t":2007.54,"v":5.62},{"t":2007.63,"v":-0.2},{"t":2007.71,"v":0.3},{"t":2007.79,"v":0.1},{"t":2007.88,"v":0.3},{"t":2007.96,"v":0.2},
{"t":2008.04,"v":0.2},{"t":2008.13,"v":-0.3},{"t":2008.21,"v":-1.12},{"t":2008.29,"v":0.64},{"t":2008.38,"v":0.3},{"t":2008.46,"v":0.1},{"t":2008.54,"v":0.3},{"t":2008.63,"v":-0.1},{"t":2008.71,"v":2.03},{"t":2008.79,"v":0.3},{"t":2008.88,"v":-0.3},{"t":2008.96,"v":0.2},
{"t":2009.04,"v":0.74},{"t":2009.13,"v":0.2},{"t":2009.21,"v":-0.3},{"t":2009.29,"v":-1.16},{"t":2009.38,"v":0.4},{"t":2009.46,"v":1.14},{"t":2009.54,"v":0.2},{"t":2009.63,"v":-0.4},{"t":2009.71,"v":0.94},{"t":2009.79,"v":0.3},{"t":2009.88,"v":-0.2},{"t":2009.96,"v":0.5},
{"t":2010.04,"v":0.3},{"t":2010.13,"v":-0.2},{"t":2010.21,"v":0.6},{"t":2010.29,"v":0.2},{"t":2010.38,"v":-1.89},{"t":2010.46,"v":2.37},{"t":2010.54,"v":-0.2},{"t":2010.63,"v":1.67},{"t":2010.71,"v":0.4},{"t":2010.79,"v":-0.3},{"t":2010.88,"v":0.5},{"t":2010.96,"v":0.2},
{"t":2011.04,"v":0.4},{"t":2011.13,"v":0.6},{"t":2011.21,"v":1.24},{"t":2011.29,"v":0.2},{"t":2011.38,"v":0.5},{"t":2011.46,"v":0.8},{"t":2011.54,"v":0.1},{"t":2011.63,"v":0.4},{"t":2011.71,"v":-0.3},{"t":2011.79,"v":0.2},{"t":2011.88,"v":0.4},{"t":2011.96,"v":0.1},
{"t":2012.04,"v":0.2},{"t":2012.13,"v":0.3},{"t":2012.21,"v":1.69},{"t":2012.29,"v":0.2},{"t":2012.38,"v":-1.69},{"t":2012.46,"v":0.4},{"t":2012.54,"v":-0.3},{"t":2012.63,"v":-1.3},{"t":2012.71,"v":-0.2},{"t":2012.79,"v":0.2},{"t":2012.88,"v":-0.3},{"t":2012.96,"v":0.1},
{"t":2013.04,"v":0.2},{"t":2013.13,"v":-0.2},{"t":2013.21,"v":0.4},{"t":2013.29,"v":3.69},{"t":2013.38,"v":-0.96},{"t":2013.46,"v":0.3},{"t":2013.54,"v":0.5},{"t":2013.63,"v":2.67},{"t":2013.71,"v":-0.3},{"t":2013.79,"v":0.4},{"t":2013.88,"v":-0.1},{"t":2013.96,"v":0.2},
{"t":2014.04,"v":0.3},{"t":2014.13,"v":-0.2},{"t":2014.21,"v":0.2},{"t":2014.29,"v":0.5},{"t":2014.38,"v":4.48},{"t":2014.46,"v":-1.61},{"t":2014.54,"v":4.08},{"t":2014.63,"v":0.4},{"t":2014.71,"v":-0.3},{"t":2014.79,"v":0.2},{"t":2014.88,"v":0.3},{"t":2014.96,"v":-0.2},
{"t":2015.04,"v":0.2},{"t":2015.13,"v":-0.2},{"t":2015.21,"v":1.53},{"t":2015.29,"v":0.3},{"t":2015.38,"v":0.6},{"t":2015.46,"v":-0.3},{"t":2015.54,"v":0.4},{"t":2015.63,"v":0.2},{"t":2015.71,"v":-0.2},{"t":2015.79,"v":0.3},{"t":2015.88,"v":0.1},{"t":2015.96,"v":0.4},
{"t":2016.04,"v":0.2},{"t":2016.13,"v":-0.2},{"t":2016.21,"v":2.53},{"t":2016.29,"v":-2.59},{"t":2016.38,"v":0.3},{"t":2016.46,"v":0.6},{"t":2016.54,"v":-0.2},{"t":2016.63,"v":0.4},{"t":2016.71,"v":0.2},{"t":2016.79,"v":1.04},{"t":2016.88,"v":-0.3},{"t":2016.96,"v":0.2},
{"t":2017.04,"v":0.2},{"t":2017.13,"v":0.3},{"t":2017.21,"v":-1.55},{"t":2017.29,"v":0.2},{"t":2017.38,"v":-0.3},{"t":2017.46,"v":0.4},{"t":2017.54,"v":-0.2},{"t":2017.63,"v":0.3},{"t":2017.71,"v":-0.3},{"t":2017.79,"v":0.2},{"t":2017.88,"v":-0.1},{"t":2017.96,"v":0.3},
{"t":2018.04,"v":0.2},{"t":2018.13,"v":-0.3},{"t":2018.21,"v":0.2},{"t":2018.29,"v":-0.96},{"t":2018.38,"v":2.83},{"t":2018.46,"v":-1.46},{"t":2018.54,"v":1.83},{"t":2018.63,"v":0.4},{"t":2018.71,"v":0.6},{"t":2018.79,"v":0.3},{"t":2018.88,"v":0.2},{"t":2018.96,"v":0.4},
{"t":2019.04,"v":0.3},{"t":2019.13,"v":1.04},{"t":2019.21,"v":0.2},{"t":2019.29,"v":0.6},{"t":2019.38,"v":3.23},{"t":2019.46,"v":1.2},{"t":2019.54,"v":2.73},{"t":2019.63,"v":0.3},{"t":2019.71,"v":0.8},{"t":2019.79,"v":0.54},{"t":2019.88,"v":0.2},{"t":2019.96,"v":0.4},
{"t":2020.04,"v":0.2},{"t":2020.13,"v":-0.4},{"t":2020.21,"v":-0.8},{"t":2020.29,"v":-1.69},{"t":2020.38,"v":-0.5},{"t":2020.46,"v":1.04},{"t":2020.54,"v":0.2},{"t":2020.63,"v":0.4},{"t":2020.71,"v":0.3},{"t":2020.79,"v":-0.2},{"t":2020.88,"v":0.2},{"t":2020.96,"v":0.1},
{"t":2021.04,"v":0.3},{"t":2021.13,"v":-1.26},{"t":2021.21,"v":0.2},{"t":2021.29,"v":-1.75},{"t":2021.38,"v":0.2},{"t":2021.46,"v":0.64},{"t":2021.54,"v":-0.3},{"t":2021.63,"v":2.69},{"t":2021.71,"v":-0.6},{"t":2021.79,"v":0.3},{"t":2021.88,"v":0.2},{"t":2021.96,"v":-1.26},
{"t":2022.04,"v":0.2},{"t":2022.13,"v":-0.3},{"t":2022.21,"v":0.4},{"t":2022.29,"v":-1.65},{"t":2022.38,"v":-0.2},{"t":2022.46,"v":-1.1},{"t":2022.54,"v":-0.6},{"t":2022.63,"v":-0.5},{"t":2022.71,"v":-0.2},{"t":2022.79,"v":0.58}
  ]
},
"vconcat": [
  {
    "title": {"text": "Station name: CN-57AR; National Water Information System identifier (ID): None", "anchor": "start", "frame": "group", "font": "DejaVu Sans Condensed, sans-serif", "fontSize": 19, "fontWeight": "bold", "color": "#231f20", "offset": 10},
    "width": 1216,
    "height": 362,
    "layer": [
      {
        "data": {"name": "wl"},
        "mark": {"type": "line", "color": "#1a1a1a", "strokeDash": [5, 4], "strokeWidth": 2},
        "encoding": {
          "x": {"field": "t", "type": "quantitative", "scale": {"domain": [1954.7, 2025.95], "nice": false, "zero": false},
                "axis": {"orient": "bottom", "values": [1960, 1970, 1980, 1990, 2000, 2010, 2020], "format": "d", "tickSize": -19, "labelPadding": 36, "title": "Year", "titleFont": "DejaVu Sans Condensed, sans-serif", "titleFontSize": 22, "titleFontWeight": "normal", "titlePadding": 12}},
          "y": {"field": "w", "type": "quantitative", "scale": {"domain": [2095.7, 2106.41], "nice": false, "zero": false},
                "axis": {"orient": "left", "values": [2096, 2096.5, 2097, 2097.5, 2098, 2098.5, 2099, 2099.5, 2100, 2100.5, 2101, 2101.5, 2102, 2102.5, 2103, 2103.5, 2104, 2104.5, 2105, 2105.5, 2106],
                         "tickSize": {"condition": {"test": "datum.value % 2 === 0", "value": -14}, "value": -7},
                         "labelExpr": "datum.value % 2 === 0 ? format(datum.value, ',') : ''", "labelPadding": 27,
                         "title": ["Water level, in feet above", "North American Vertical Datum", "of 1988"], "titleFont": "Liberation Sans, Arial, sans-serif", "titleFontSize": 21.5, "titleFontWeight": "normal", "titleLineHeight": 29, "titlePadding": 14}}
        }
      },
      {
        "data": {"name": "wl"},
        "mark": {"type": "point", "shape": "circle", "filled": false, "stroke": "#3f76ad", "strokeWidth": 1.4, "size": 50, "opacity": 1},
        "encoding": {
          "x": {"field": "t", "type": "quantitative", "axis": {"orient": "top", "values": [1960, 1970, 1980, 1990, 2000, 2010, 2020], "tickSize": -19, "labels": false, "title": null}},
          "y": {"field": "w", "type": "quantitative", "axis": {"orient": "right", "values": [2096, 2096.5, 2097, 2097.5, 2098, 2098.5, 2099, 2099.5, 2100, 2100.5, 2101, 2101.5, 2102, 2102.5, 2103, 2103.5, 2104, 2104.5, 2105, 2105.5, 2106], "tickSize": {"condition": {"test": "datum.value % 2 === 0", "value": -14}, "value": -7}, "labels": false, "title": null}}
        }
      },
      {
        "data": {"values": [{"t": 1957.05, "w": 2105.32, "label": "Fox Hills aquifer"}]},
        "mark": {"type": "text", "align": "left", "baseline": "middle", "font": "DejaVu Sans Condensed, sans-serif", "fontSize": 19, "color": "#231f20"},
        "encoding": {
          "x": {"field": "t", "type": "quantitative", "axis": null},
          "y": {"field": "w", "type": "quantitative", "axis": null},
          "text": {"field": "label"}
        }
      }
    ],
    "resolve": {"axis": {"x": "independent", "y": "independent"}}
  },
  {
    "title": {"text": "Station name: MC INTOSH 6 SE, SD; National Oceanic and Atmospheric Administration station ID: USC00395381", "anchor": "start", "frame": "group", "font": "DejaVu Sans Condensed, sans-serif", "fontSize": 19, "fontWeight": "bold", "color": "#231f20", "offset": 15},
    "width": 1216,
    "height": 574,
    "layer": [
      {
        "data": {"name": "cum"},
        "mark": {"type": "line", "strokeWidth": 1.3},
        "encoding": {
          "x": {"field": "t", "type": "quantitative", "scale": {"domain": [1954.7, 2025.95], "nice": false, "zero": false},
                "axis": {"orient": "bottom", "values": [1960, 1970, 1980, 1990, 2000, 2010, 2020], "format": "d", "tickSize": -19, "labelPadding": 39, "title": "Year", "titleFont": "DejaVu Sans Condensed, sans-serif", "titleFontSize": 22, "titleFontWeight": "normal", "titlePadding": 10}},
          "y": {"field": "v", "type": "quantitative", "scale": {"domain": [-26.97, 7.33], "nice": false, "zero": false},
                "axis": {"orient": "left", "values": [-26, -25, -24, -23, -22, -21, -20, -19, -18, -17, -16, -15, -14, -13, -12, -11, -10, -9, -8, -7, -6, -5, -4, -3, -2, -1, 0, 1, 2, 3, 4, 5, 6, 7],
                         "tickSize": {"condition": {"test": "datum.value % 5 === 0", "value": -20}, "value": -10},
                         "labelExpr": "datum.value % 5 === 0 ? format(datum.value, 'd') : ''", "labelPadding": 33,
                         "title": "Departure from normal precipitation, in inches", "titleFont": "Liberation Sans, Arial, sans-serif", "titleFontSize": 22, "titleFontWeight": "normal", "titlePadding": 18}},
          "color": {"datum": "Cumulative departure from normal", "type": "nominal",
                    "scale": {"domain": ["Monthly departure from normal", "Cumulative departure from normal"], "range": ["#f7931e", "#3569a0"]},
                    "legend": {"title": "EXPLANATION", "orient": "none", "legendX": 418, "legendY": 1172, "direction": "vertical",
                               "titleFont": "DejaVu Sans Condensed, sans-serif", "titleFontSize": 20, "titleFontWeight": "bold", "titleColor": "#231f20", "titleAnchor": "middle", "titleAlign": "center", "titlePadding": 26,
                               "labelFont": "DejaVu Sans Condensed, sans-serif", "labelFontSize": 17, "labelFontWeight": "bold", "labelColor": "#231f20", "labelOffset": 52, "labelLimit": 500,
                               "symbolType": "M-1,0L4,0", "symbolSize": 400, "symbolStrokeWidth": 1.5, "rowPadding": 11}}
        }
      },
      {
        "data": {"name": "mon"},
        "mark": {"type": "line", "strokeWidth": 1.3},
        "encoding": {
          "x": {"field": "t", "type": "quantitative", "axis": {"orient": "top", "values": [1960, 1970, 1980, 1990, 2000, 2010, 2020], "tickSize": -19, "labels": false, "title": null}},
          "y": {"field": "v", "type": "quantitative", "axis": {"orient": "right", "values": [-26, -25, -24, -23, -22, -21, -20, -19, -18, -17, -16, -15, -14, -13, -12, -11, -10, -9, -8, -7, -6, -5, -4, -3, -2, -1, 0, 1, 2, 3, 4, 5, 6, 7], "tickSize": {"condition": {"test": "datum.value % 5 === 0", "value": -20}, "value": -10}, "labels": false, "title": null}},
          "color": {"datum": "Monthly departure from normal", "type": "nominal"}
        }
      }
    ],
    "resolve": {"axis": {"x": "independent", "y": "independent"}}
  }
]
}
